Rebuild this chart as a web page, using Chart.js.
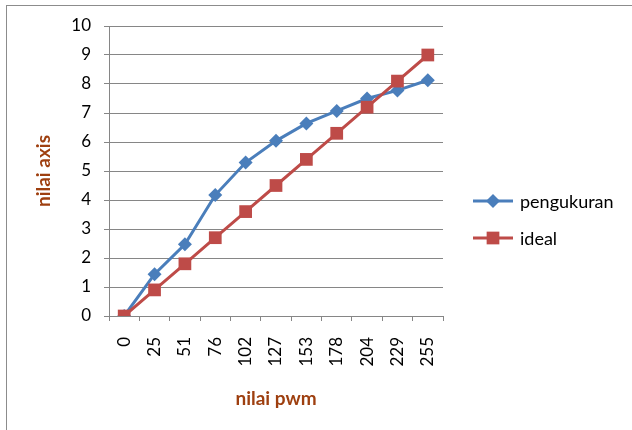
<!DOCTYPE html>
<html>
<head>
<meta charset="utf-8">
<script src="https://cdn.jsdelivr.net/npm/chart.js@4"></script>
<style>
  html, body { margin: 0; padding: 0; background: #fff; overflow: hidden; }
  #wrap { position: relative; width: 632px; height: 430px; }
  #frame { position: absolute; left: 6px; top: 5px; width: 700px; height: 500px; border: 1px solid #8c8c8c; }
  canvas { position: absolute; left: 0; top: 0; }
</style>
</head>
<body>
<div id="wrap">
  <div id="frame"></div>
  <canvas id="pwmChart" width="632" height="430"></canvas>
</div>
<script>
var labelsPwm = ["0","25","51","76","102","127","153","178","204","229","255"];
var pengukuran = [0, 1.44, 2.47, 4.17, 5.29, 6.04, 6.64, 7.07, 7.5, 7.78, 8.13];
var ideal = [0, 0.9, 1.8, 2.7, 3.6, 4.5, 5.4, 6.3, 7.2, 8.1, 9.0];
var yTicks = [0,1,2,3,4,5,6,7,8,9,10];

var blue = '#4A7EBB';
var red = '#BE4B48';
var brown = '#9E3F0F';
var fontName = 'Lato, "Open Sans", sans-serif';

var extraText = {
    id: 'extraText',
    afterDraw: function(chart) {
        var ctx = chart.ctx;
        var area = chart.chartArea;
        ctx.save();
        // axis titles
        ctx.fillStyle = brown;
        ctx.font = 'bold 19px ' + fontName;
        ctx.textAlign = 'center';
        ctx.textBaseline = 'middle';
        ctx.fillText('nilai pwm', (area.left + area.right) / 2, 399);
        ctx.translate(44, (area.top + area.bottom) / 2);
        ctx.rotate(-Math.PI / 2);
        ctx.fillText('nilai axis', 0, 0);
        ctx.restore();

        // legend
        var items = [
            { text: 'pengukuran', color: blue, style: 'rectRot', r: 7, y: 201 },
            { text: 'ideal', color: red, style: 'rect', r: 9, y: 238 }
        ];
        items.forEach(function(it) {
            ctx.save();
            ctx.strokeStyle = it.color;
            ctx.lineWidth = 3;
            ctx.beginPath();
            ctx.moveTo(473, it.y);
            ctx.lineTo(513, it.y);
            ctx.stroke();
            ctx.fillStyle = it.color;
            Chart.helpers.drawPoint(ctx, { pointStyle: it.style, radius: it.r, borderWidth: 0, rotation: 0 }, 493, it.y);
            ctx.fillStyle = '#000';
            ctx.font = '18px ' + fontName;
            ctx.textAlign = 'left';
            ctx.textBaseline = 'middle';
            ctx.fillText(it.text, 520, it.y + 1);
            ctx.restore();
        });
    }
};

var pwmChart = new Chart("pwmChart", {
    type: 'line',
    data: {
        labels: labelsPwm,
        datasets: [
            {
                label: 'pengukuran',
                data: pengukuran,
                borderColor: blue,
                backgroundColor: blue,
                borderWidth: 3,
                pointStyle: 'rectRot',
                pointRadius: 7,
                pointBorderWidth: 0,
                tension: 0,
                order: 1
            },
            {
                label: 'ideal',
                data: ideal,
                borderColor: red,
                backgroundColor: red,
                borderWidth: 3,
                pointStyle: 'rect',
                pointRadius: 9,
                pointBorderWidth: 0,
                tension: 0,
                order: 0
            }
        ]
    },
    plugins: [extraText],
    options: {
        responsive: false,
        animation: false,
        events: [],
        layout: { padding: { left: 0, right: 189, top: 26, bottom: 0 } },
        plugins: {
            legend: { display: false },
            tooltip: { enabled: false },
            title: { display: false }
        },
        scales: {
            x: {
                offset: true,
                grid: {
                    display: true,
                    drawOnChartArea: false,
                    drawTicks: true,
                    tickLength: 5,
                    color: '#868686',
                    offset: true
                },
                border: { display: true, color: '#868686', width: 1 },
                ticks: {
                    color: '#000',
                    font: { family: fontName, size: 17 },
                    minRotation: 90,
                    maxRotation: 90,
                    padding: 16,
                    autoSkip: false
                },
                afterFit: function(scale) { scale.height = 114; }
            },
            y: {
                min: 0,
                max: 10,
                afterBuildTicks: function(scale) {
                    scale.ticks = yTicks.map(function(v) { return { value: v }; });
                },
                grid: {
                    color: '#868686',
                    tickLength: 5,
                    lineWidth: 1
                },
                border: { display: true, color: '#868686', width: 1 },
                ticks: {
                    color: '#000',
                    font: { family: fontName, size: 17 },
                    padding: 13
                },
                afterFit: function(scale) { scale.width = 109; }
            }
        }
    }
});
</script>
</body>
</html>
